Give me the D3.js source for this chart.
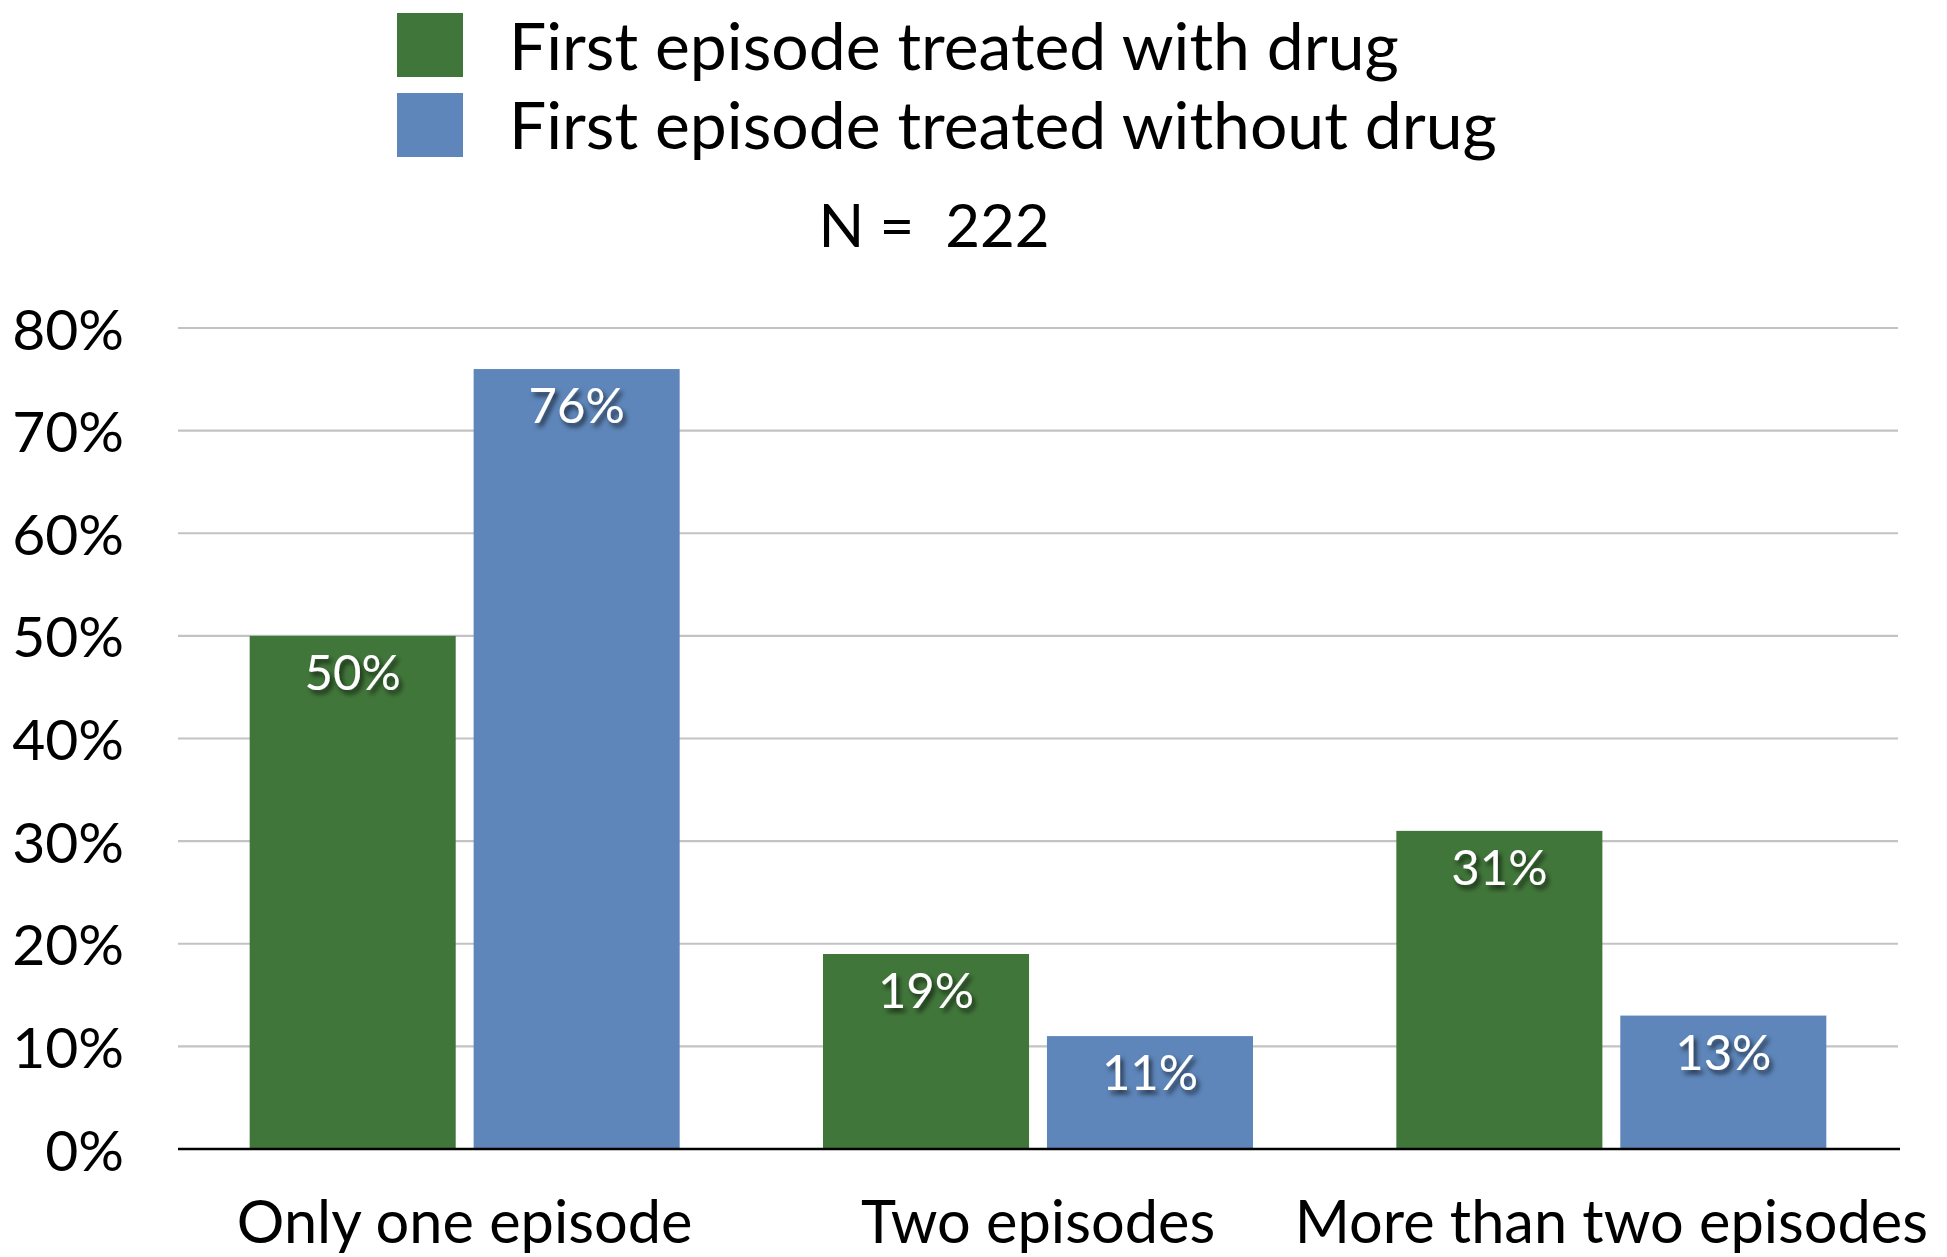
<!DOCTYPE html>
<html>
<head>
<meta charset="utf-8">
<script src="https://cdn.jsdelivr.net/npm/d3@7"></script>
<style>
  html, body { margin: 0; padding: 0; background: #ffffff; }
  svg { display: block; }
  text { font-family: Lato, "DejaVu Sans", sans-serif; }
</style>
</head>
<body>
<svg id="chart" width="1947" height="1257"></svg>
<script>
// ---- data ----
const categories = ["Only one episode", "Two episodes", "More than two episodes"];
const seriesNames = ["First episode treated with drug", "First episode treated without drug"];
const withDrug = [0.50, 0.19, 0.31];
const withoutDrug = [0.76, 0.11, 0.13];
const yTicks = [0, 0.1, 0.2, 0.3, 0.4, 0.5, 0.6, 0.7, 0.8];
const titleText = "N =  222";

const colors = ["#41763a", "#5e86ba"];

const svg = d3.select("#chart");
const plot = { left: 178, right: 1898, top: 328, bottom: 1149 };

// drop shadow filter for value labels
const defs = svg.append("defs");
const f = defs.append("filter").attr("id", "shadow").attr("x", "-20%").attr("y", "-20%").attr("width", "150%").attr("height", "160%");
f.append("feDropShadow").attr("dx", 3).attr("dy", 4).attr("stdDeviation", 2.5)
  .attr("flood-color", "#000").attr("flood-opacity", 0.65);

const y = d3.scaleLinear().domain([0, 0.8]).range([plot.bottom, plot.top]);
const x0 = d3.scaleBand().domain(categories).range([plot.left, plot.right])
  .paddingInner(0.25).paddingOuter(0.125);
const x1 = d3.scaleBand().domain([0, 1]).range([0, x0.bandwidth()]).paddingInner(0.08).paddingOuter(0);

// gridlines
svg.append("g").selectAll("line").data(yTicks.filter(d => d > 0)).join("line")
  .attr("x1", plot.left).attr("x2", plot.right)
  .attr("y1", d => y(d)).attr("y2", d => y(d))
  .attr("stroke", "#c3c3c3").attr("stroke-width", 2.2);

// y tick labels
const yAxis = d3.axisLeft(y).tickValues(yTicks).tickFormat(d3.format(".0%")).tickSize(0).tickPadding(0);
const yg = svg.append("g").attr("transform", `translate(124,0)`).call(yAxis);
yg.select(".domain").remove();
yg.selectAll("text").attr("font-size", 57).attr("fill", "#000").attr("dy", "0.37em")
  .style("font-family", "Lato, sans-serif");

// bars
const rows = categories.map((c, i) => ({ cat: c, vals: [withDrug[i], withoutDrug[i]] }));
const groups = svg.append("g").selectAll("g").data(rows).join("g")
  .attr("transform", d => `translate(${x0(d.cat)},0)`);
groups.selectAll("rect").data(d => d.vals.map((v, k) => ({ v, k }))).join("rect")
  .attr("x", d => x1(d.k)).attr("width", x1.bandwidth())
  .attr("y", d => y(d.v)).attr("height", d => y(0) - y(d.v))
  .attr("fill", d => colors[d.k]);
groups.selectAll("text").data(d => d.vals.map((v, k) => ({ v, k }))).join("text")
  .attr("x", d => x1(d.k) + x1.bandwidth() / 2)
  .attr("y", d => y(d.v) + 54)
  .attr("text-anchor", "middle").attr("fill", "#fff").attr("font-size", 49)
  .attr("filter", "url(#shadow)")
  .text(d => Math.round(d.v * 100) + "%");

// baseline
svg.append("line").attr("x1", plot.left).attr("x2", 1900).attr("y1", y(0)).attr("y2", y(0))
  .attr("stroke", "#000").attr("stroke-width", 2.5);

// x axis labels
const xAxis = d3.axisBottom(x0).tickSize(0).tickPadding(0);
const xg = svg.append("g").attr("transform", `translate(0,${y(0)})`).call(xAxis);
xg.select(".domain").remove();
xg.selectAll("text").attr("font-size", 59.5).attr("fill", "#000").attr("dy", null).attr("y", 94)
  .style("font-family", "Lato, sans-serif");

// title
svg.append("text").attr("x", 934).attr("y", 247).attr("text-anchor", "middle")
  .attr("font-size", 60).attr("fill", "#000").style("white-space", "pre").text(titleText);

// legend
const leg = svg.append("g");
seriesNames.forEach((name, i) => {
  leg.append("rect").attr("x", 397).attr("y", 13 + i * 80).attr("width", 66).attr("height", 64).attr("fill", colors[i]);
  leg.append("text").attr("x", 509).attr("y", 70 + i * 79).attr("font-size", 66).attr("fill", "#000").text(name);
});
</script>
</body>
</html>
